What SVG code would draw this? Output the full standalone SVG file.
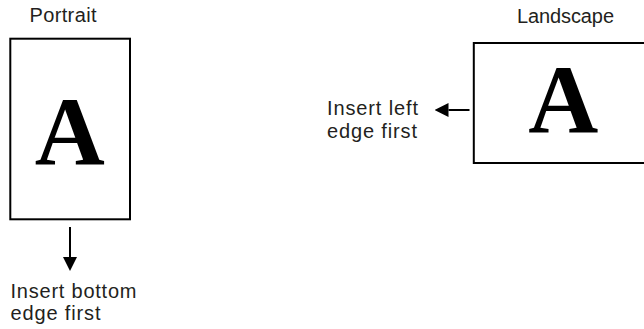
<svg xmlns="http://www.w3.org/2000/svg" width="644" height="329" viewBox="0 0 644 329">
  <style>
    .page { fill: #ffffff; stroke: #000000; stroke-width: 2; }
    .letter { font-family: "Liberation Serif", "Times New Roman", serif; font-weight: bold; font-size: 97px; fill: #000000; text-anchor: middle; }
    .label { font-family: "Liberation Sans", Arial, sans-serif; font-size: 20px; fill: #231f20; }
    .conn { stroke: #000000; stroke-width: 2; fill: none; }
  </style>
  <defs>
    <marker id="arrow" markerUnits="userSpaceOnUse" viewBox="0 0 14 14" markerWidth="14" markerHeight="14" refX="0" refY="7" orient="auto">
      <path d="M0,0 L14,7 L0,14 z" fill="#000000"/>
    </marker>
  </defs>
  <rect width="644" height="329" fill="#ffffff"/>

  <g id="portrait">
    <text class="label" x="29.5" y="22.3" textLength="67" lengthAdjust="spacing">Portrait</text>
    <rect class="page" x="10.3" y="38.7" width="119.7" height="180.6"/>
    <text class="letter" x="69.7" y="163.5">A</text>
  </g>

  <g id="portrait-note">
    <text class="label" x="10.5" y="297.5" textLength="126" lengthAdjust="spacing">Insert bottom</text>
    <text class="label" x="10.5" y="320" textLength="90" lengthAdjust="spacing">edge first</text>
  </g>

  <g id="landscape">
    <text class="label" x="517" y="23" textLength="97" lengthAdjust="spacing">Landscape</text>
    <rect class="page" x="473.8" y="43" width="180" height="120"/>
    <text class="letter" x="563.3" y="131.7">A</text>
  </g>

  <g id="landscape-note">
    <text class="label" x="327" y="114.5" textLength="91" lengthAdjust="spacing">Insert left</text>
    <text class="label" x="327" y="137.5" textLength="90" lengthAdjust="spacing">edge first</text>
  </g>

  <g id="connectors">
    <line class="conn" x1="70" y1="227" x2="70" y2="257" marker-end="url(#arrow)"/>
    <line class="conn" x1="469.5" y1="110" x2="448.5" y2="110" marker-end="url(#arrow)"/>
  </g>
</svg>
